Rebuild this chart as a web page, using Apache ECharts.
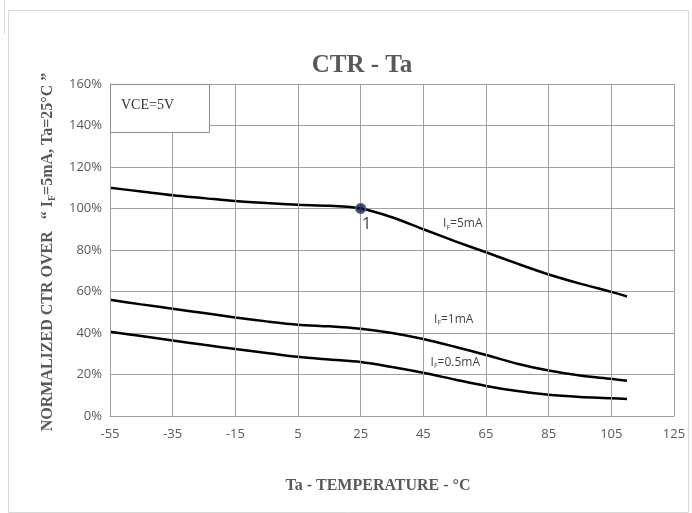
<!DOCTYPE html>
<html><head><meta charset="utf-8">
<script src="https://cdn.jsdelivr.net/npm/echarts@6/dist/echarts.min.js"></script>
<style>html,body{margin:0;padding:0;background:#fff}#c{width:692px;height:513px}</style>
</head><body><div id="c"></div>
<script>
const temps = [-55, -45, -35, -25, -15, -5, 5, 15, 25, 35, 45, 55, 65, 75, 85, 95, 105, 110];
const if5mA  = [110, 108.2, 106.4, 105, 103.6, 102.6, 101.8, 101.3, 100, 95.8, 90, 84.3, 78.9, 73.4, 68.2, 63.8, 59.8, 57.6];
const if1mA  = [56, 53.8, 51.7, 49.6, 47.5, 45.6, 44, 43.2, 42, 40, 37.1, 33.4, 29.4, 25.2, 21.9, 19.5, 17.9, 17];
const if05mA = [40.6, 38.5, 36.4, 34.3, 32.3, 30.4, 28.5, 27.2, 26, 23.6, 20.8, 17.6, 14.5, 12, 10.2, 9.2, 8.6, 8.2];
const xTicks = [-55, -35, -15, 5, 25, 45, 65, 85, 105, 125];
const yTicks = [0, 20, 40, 60, 80, 100, 120, 140, 160];
const seriesNames = ['IF=5mA', 'IF=1mA', 'IF=0.5mA'];
const curveLabels = [
  {name: 'IF=5mA', sub: 'F', text: '=5mA', at: [57.6, 92.5]},
  {name: 'IF=1mA', sub: 'F', text: '=1mA', at: [54.7, 46.7]},
  {name: 'IF=0.5mA', sub: 'F', text: '=0.5mA', at: [55.2, 25.8]}
];
const refPoint = [25, 100];

const chart = echarts.init(document.getElementById('c'));
const gray = '#595959';
const gridColor = '#a0a0a0';
function pairs(vals){ return temps.map((t,i)=>[t, vals[i]]); }
const lineSeries = [{
  type: 'line', data: [], silent: true, z: 1,
  markLine: {silent: true, symbol: ['none', 'none'], label: {show: false},
    lineStyle: {color: gridColor, width: 1, type: 'solid'},
    data: xTicks.map(v => ({xAxis: v}))}
}];
[if5mA, if1mA, if05mA].forEach((v, i) => lineSeries.push({
  name: seriesNames[i], type: 'line', smooth: 0.3, showSymbol: false, symbol: 'none',
  data: pairs(v), lineStyle: {color: '#000', width: 2.5}, silent: true, z: 3
}));
const richLbl = {
  n: {fontFamily: 'Open Sans', fontSize: 12, color: '#111'},
  s: {fontFamily: 'Open Sans', fontSize: 7, color: '#111', verticalAlign: 'bottom', padding: [8, 0, 0, 0]}
};
lineSeries.push({
  type: 'scatter', data: curveLabels.map(c => ({value: c.at, lab: c})), symbolSize: 0, silent: true,
  label: {show: true, position: 'inside', formatter: p => '{n|I}{s|' + p.data.lab.sub + '}{n|' + p.data.lab.text + '}', rich: richLbl}
});
lineSeries.push({
  type: 'scatter', data: [refPoint], symbolSize: 10, z: 5,
  itemStyle: {color: '#0d1a33', borderColor: '#4a6fa5', borderWidth: 1.5},
  label: {show: true, formatter: '1', position: 'bottom', offset: [6, 0], distance: 1,
    fontFamily: 'Open Sans', fontSize: 17, color: '#111'}
});

chart.setOption({
  animation: false,
  backgroundColor: '#fff',
  grid: {left: 110, right: 18, top: 84, bottom: 97, containLabel: false},
  xAxis: {type: 'value', min: -55, max: 125, interval: 20,
    axisLine: {show: true, onZero: false, lineStyle: {color: gridColor}}, axisTick: {show: false},
    splitLine: {show: false},
    axisLabel: {margin: 12, fontFamily: 'Open Sans', fontSize: 13, color: gray,
      formatter: v => xTicks.includes(v) ? String(v) : ''}},
  yAxis: {type: 'value', min: 0, max: 160, interval: 20,
    axisLine: {show: true, onZero: false, lineStyle: {color: gridColor}}, axisTick: {show: false},
    splitLine: {show: true, lineStyle: {color: gridColor, width: 1}},
    axisLabel: {margin: 8, fontFamily: 'Open Sans', fontSize: 13, color: gray,
      formatter: v => yTicks.includes(v) ? v + '%' : ''}},
  graphic: [
    {type: 'rect', shape: {x: 8.5, y: 10.5, width: 680, height: 502}, style: {fill: 'none', stroke: '#d9d9d9', lineWidth: 1}, silent: true, z: 0},
    {type: 'line', shape: {x1: 4.5, y1: 0, x2: 4.5, y2: 34}, style: {stroke: '#d9d9d9', lineWidth: 1}, silent: true},
    {type: 'text', x: 362, y: 66, z: 11,
      style: {text: 'CTR - Ta', align: 'center', verticalAlign: 'middle', fontFamily: 'Liberation Serif', fontWeight: 'bold', fontSize: 25, fill: gray}},
    {type: 'rect', shape: {x: 110.5, y: 84.5, width: 99, height: 48}, style: {fill: '#fff', stroke: '#8c8c8c', lineWidth: 1}, z: 10},
    {type: 'text', x: 121, y: 98, z: 11, style: {text: 'VCE=5V', fontFamily: 'Liberation Serif', fontSize: 14, fill: '#333'}},
    {type: 'text', x: 48, y: 252, rotation: Math.PI / 2, z: 11,
      style: {text: '{a|NORMALIZED CTR OVER   “ I}{b|F}{a|=5mA, Ta=25°C ”}', align: 'center', verticalAlign: 'middle',
        rich: {a: {fontFamily: 'Liberation Serif', fontWeight: 'bold', fontSize: 16, fill: gray, color: gray},
               b: {fontFamily: 'Liberation Serif', fontWeight: 'bold', fontSize: 10, fill: gray, color: gray, padding: [9, 0, 0, 0]}}}},
    {type: 'text', x: 378, y: 486, z: 11,
      style: {text: 'Ta - TEMPERATURE - °C', align: 'center', verticalAlign: 'middle', fontFamily: 'Liberation Serif', fontWeight: 'bold', fontSize: 16, fill: gray}}
  ],
  series: lineSeries
});
</script></body></html>
